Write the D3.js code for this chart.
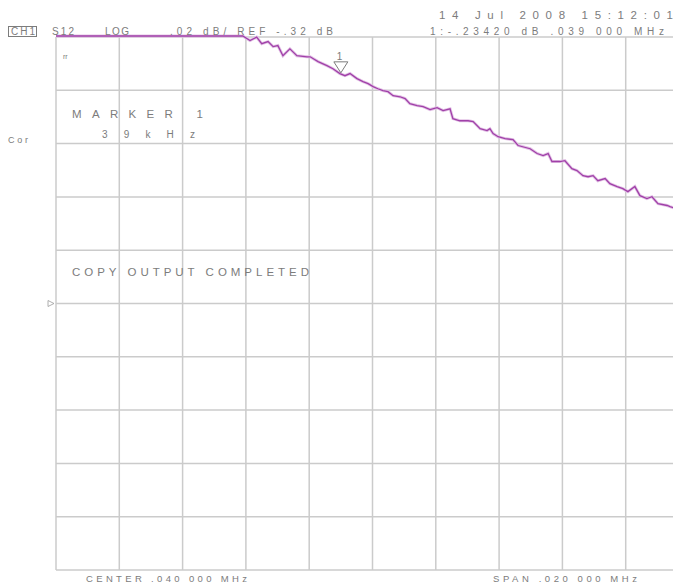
<!DOCTYPE html>
<html>
<head>
<meta charset="utf-8">
<script src="https://cdn.jsdelivr.net/npm/d3@7"></script>
<style>
  body { margin: 0; background: #fff; }
  svg text { font-family: "Liberation Sans", Arial, sans-serif; fill: #7c7c7c; }
</style>
</head>
<body>
<svg id="chart" width="673" height="584"></svg>
<script>
// trace S12, frequency in kHz, magnitude in dB
const freqs = [30, 33, 35.9, 36.13, 36.34, 36.5, 36.7, 36.86, 37.01, 37.17, 37.39, 37.61, 37.93, 38.03,
  38.28, 38.56, 38.75, 38.97, 39.13, 39.29, 39.51, 39.7, 39.86, 40.02, 40.17, 40.33, 40.49, 40.65,
  40.87, 41.03, 41.18, 41.41, 41.6, 41.82, 42.04, 42.23, 42.45, 42.54, 42.76, 43.02, 43.18, 43.4,
  43.62, 43.71, 43.81, 43.97, 44.19, 44.44, 44.6, 44.98, 45.2, 45.39, 45.55, 45.67, 45.92, 46.08,
  46.3, 46.46, 46.65, 46.81, 46.97, 47.12, 47.35, 47.5, 47.73, 47.91, 48.07, 48.29, 48.45, 48.67,
  48.83, 49.02, 49.31, 49.4, 49.6];
const s12 = [-0.21, -0.21, -0.215, -0.2217, -0.2204, -0.2229, -0.2221, -0.224, -0.2236, -0.2274, -0.2248, -0.2274, -0.2278, -0.2278,
  -0.2296, -0.2311, -0.2323, -0.2341, -0.2349, -0.2341, -0.236, -0.2371, -0.2379, -0.239, -0.2398, -0.2405, -0.2409, -0.2424,
  -0.2428, -0.2435, -0.2454, -0.2461, -0.2465, -0.2476, -0.2469, -0.248, -0.2473, -0.251, -0.2518, -0.2518, -0.2521, -0.2548,
  -0.2555, -0.2548, -0.2566, -0.2578, -0.2585, -0.2589, -0.2611, -0.2623, -0.2641, -0.2649, -0.2641, -0.2671, -0.2671, -0.2668,
  -0.2698, -0.2705, -0.2724, -0.2728, -0.2724, -0.2743, -0.2735, -0.2754, -0.2765, -0.2773, -0.2784, -0.2765, -0.2799, -0.281,
  -0.2803, -0.2829, -0.2836, -0.284, -0.2848];

const xTicks = d3.range(30, 50.01, 2);      // 2 kHz / div
const yTicks = d3.range(-0.42, -0.2199, 0.02); // .02 dB / div
const markerFreq = 39;
const markerVal = -0.2342;

const svg = d3.select('#chart');

const x = d3.scaleLinear().domain([30, 50]).range([56, 689]);
const y = d3.scaleLinear().domain([-0.42, -0.22]).range([570, 37]).clamp(true);

const gridColor = '#cbcbcb';

// grid
svg.append('g')
  .selectAll('line')
  .data(xTicks)
  .enter()
  .append('line')
  .attr('x1', d => x(d)).attr('x2', d => x(d))
  .attr('y1', y(-0.22)).attr('y2', y(-0.42))
  .attr('stroke', gridColor).attr('stroke-width', 1.5);

svg.append('g')
  .selectAll('line')
  .data(yTicks)
  .enter()
  .append('line')
  .attr('x1', x(30)).attr('x2', 673)
  .attr('y1', d => y(d)).attr('y2', d => y(d))
  .attr('stroke', gridColor).attr('stroke-width', 1.5);

// trace
const line = d3.line()
  .x((d, i) => x(freqs[i]))
  .y(d => y(d) - 1);

svg.append('path')
  .datum(s12)
  .attr('d', line)
  .attr('fill', 'none')
  .attr('stroke', '#e3c3e6')
  .attr('stroke-width', 3);

svg.append('path')
  .datum(s12)
  .attr('d', line)
  .attr('fill', 'none')
  .attr('stroke', '#a040a8')
  .attr('stroke-width', 1.3);

// marker 1
const mx = x(markerFreq), my = y(markerVal) - 2;
svg.append('path')
  .attr('d', `M${mx},${my} L${mx - 7},${my - 11} L${mx + 7},${my - 11} Z`)
  .attr('fill', 'none')
  .attr('stroke', '#7c7c7c')
  .attr('stroke-width', 1);
svg.append('text')
  .attr('x', mx - 4).attr('y', my - 13)
  .attr('font-size', 10)
  .text('1');

// reference position arrow
const ry = y(-0.32);
svg.append('path')
  .attr('d', `M48,${ry - 3} L54,${ry} L48,${ry + 3} Z`)
  .attr('fill', 'none')
  .attr('stroke', '#9a9a9a')
  .attr('stroke-width', 0.8);

// CH1 box
svg.append('rect')
  .attr('x', 8.5).attr('y', 26.5).attr('width', 28).attr('height', 10)
  .attr('fill', 'none').attr('stroke', '#7c7c7c').attr('stroke-width', 1);

function label(txt, x0, x1, yb, size) {
  svg.append('text')
    .attr('x', x0).attr('y', yb)
    .attr('font-size', size)
    .attr('textLength', x1 - x0)
    .attr('lengthAdjust', 'spacing')
    .text(txt);
}

label('CH1', 11, 35, 35, 10);
label('S12', 52, 74, 35, 10);
label('LOG', 105, 129, 35, 10);
label('.02 dB/ REF -.32 dB', 170, 333, 35, 10);
label('14 Jul 2008 15:12:01', 439, 673, 19, 11.5);
label('1:-.23420 dB   .039 000 MHz', 430, 664, 35, 10);
label('Cor', 8, 28, 143, 9);
label('MARKER 1', 72, 203, 118, 11.5);
label('3 9  k H z', 102, 195, 138, 10);
label('COPY OUTPUT COMPLETED', 72, 309, 276, 11.5);
label('CENTER .040 000 MHz', 86, 247, 582, 9.5);
label('SPAN .020 000 MHz', 493, 637, 582, 9.5);

svg.append('text')
  .attr('x', 63).attr('y', 59)
  .attr('font-size', 7)
  .text('rr');
</script>
</body>
</html>
